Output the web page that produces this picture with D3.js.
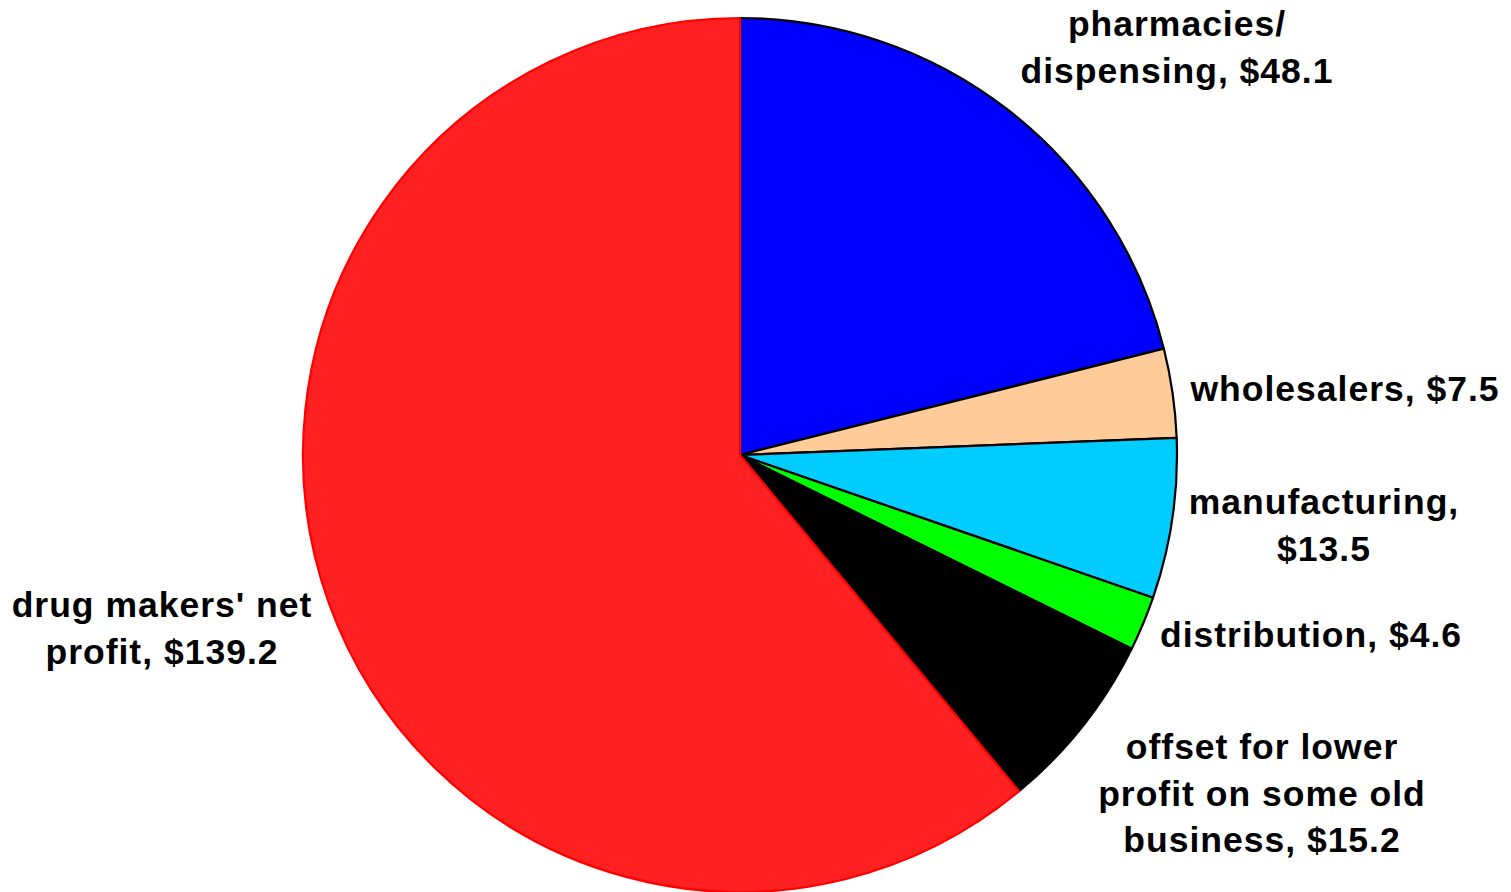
<!DOCTYPE html>
<html>
<head>
<meta charset="utf-8">
<script src="https://cdn.jsdelivr.net/npm/d3@7/dist/d3.min.js"></script>
<style>
  html, body { margin: 0; padding: 0; background: #ffffff; }
  svg { display: block; }
  text { font-family: "Liberation Sans", Arial, Helvetica, sans-serif; font-weight: bold; fill: #000; }
</style>
</head>
<body>
<svg id="chart" width="1511" height="892"></svg>
<script>
// Slice categories, clockwise from 12 o'clock
const categories = [
  "pharmacies/dispensing",
  "wholesalers",
  "manufacturing",
  "distribution",
  "offset for lower profit on some old business",
  "drug makers' net profit"
];
// Values in billions of dollars
const values = [48.1, 7.5, 13.5, 4.6, 15.2, 139.2];
// Label text, one entry per line
const labelLines = [
  ["pharmacies/", "dispensing, $48.1"],
  ["wholesalers, $7.5"],
  ["manufacturing,", "$13.5"],
  ["distribution, $4.6"],
  ["offset for lower", "profit on some old", "business, $15.2"],
  ["drug makers' net", "profit, $139.2"]
];

// Layout and styling
const fills   = ["#0000ff", "#ffcc99", "#00ccff", "#00ff00", "#000000", "#ff2121"];
const strokes = ["#000000", "#000000", "#000000", "#000000", "#000000", "#ff0000"];
const labelAnchors = [
  { x: 1177, y: 36 },
  { x: 1345, y: 401 },
  { x: 1324, y: 514 },
  { x: 1311, y: 647 },
  { x: 1262, y: 759 },
  { x: 162,  y: 617 }
];
const lineHeight = 46.5;
const cx = 740, cy = 455, radius = 437;

const svg = d3.select("#chart");
const g = svg.append("g").attr("transform", `translate(${cx},${cy})`);

const data = categories.map((c, i) => ({ category: c, value: values[i], index: i }));

const pie = d3.pie().sort(null).value(d => d.value).startAngle(0).endAngle(2 * Math.PI);
const arc = d3.arc().innerRadius(0).outerRadius(radius);

const arcs = pie(data);

g.selectAll("path.slice")
  .data(arcs)
  .join("path")
  .attr("class", "slice")
  .attr("d", arc)
  .attr("fill", d => fills[d.data.index])
  .attr("stroke", d => strokes[d.data.index])
  .attr("stroke-width", 2.2)
  .attr("stroke-linejoin", "round");

// Labels
const labels = svg.selectAll("text.label")
  .data(data)
  .join("text")
  .attr("class", "label")
  .attr("text-anchor", "middle")
  .attr("font-size", 35.5)
  .attr("letter-spacing", 1);

labels.each(function (d, i) {
  const t = d3.select(this);
  labelLines[i].forEach((line, j) => {
    t.append("tspan")
      .attr("x", labelAnchors[i].x)
      .attr("y", labelAnchors[i].y + j * lineHeight)
      .text(line);
  });
});
</script>
</body>
</html>
